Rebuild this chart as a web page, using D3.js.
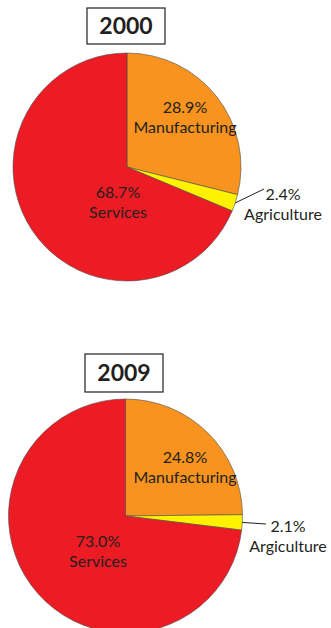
<!DOCTYPE html>
<html>
<head>
<meta charset="utf-8">
<script src="https://cdn.jsdelivr.net/npm/d3@7"></script>
<style>
  html, body { margin: 0; padding: 0; background: #fff; }
  svg { display: block; }
  text { font-family: Lato, "Open Sans", sans-serif; fill: #231f20; }
</style>
</head>
<body>
<svg id="chart" width="331" height="628"></svg>
<script>
// Sector shares of output, in percent
const years = ["2000", "2009"];
const sectors = ["Manufacturing", "Agriculture", "Services"];
const shares2000 = [28.9, 2.4, 68.7];
const shares2009 = [24.8, 2.1, 73.0];
// Label text under each percentage (the 2009 chart spells it as printed)
const labels2000 = ["Manufacturing", "Agriculture", "Services"];
const labels2009 = ["Manufacturing", "Argiculture", "Services"];

const colors = d3.scaleOrdinal()
  .domain(sectors)
  .range(["#f7931e", "#fff200", "#ed1c24"]);

// Placement of each pie, its title box and its slice labels
const layouts = [
  { cx: 127, cy: 167, r: 114, box: { x: 87, y: 8, w: 78, h: 36 },
    labelPos: [[185, 113], [283, 200], [118, 198]],
    leaderEnd: [264, 189] },
  { cx: 125.5, cy: 516, r: 117, box: { x: 85, y: 354, w: 78, h: 38 },
    labelPos: [[185, 463], [288, 532], [98, 547]],
    leaderEnd: [266, 524] }
];

const allShares = [shares2000, shares2009];
const allLabels = [labels2000, labels2009];

const svg = d3.select("#chart");
const pie = d3.pie().sort(null).value(d => d.value);

years.forEach((year, i) => {
  const L = layouts[i];
  const data = sectors.map((s, j) => ({ sector: s, value: allShares[i][j], label: allLabels[i][j] }));
  const arcs = pie(data);
  const arc = d3.arc().innerRadius(0).outerRadius(L.r);

  const g = svg.append("g").attr("transform", `translate(${L.cx},${L.cy})`);
  g.selectAll("path")
    .data(arcs)
    .join("path")
    .attr("d", arc)
    .attr("fill", d => colors(d.data.sector))
    .attr("stroke", "#4d4d4d")
    .attr("stroke-width", 0.6)
    .attr("stroke-linejoin", "round");

  // Title box
  svg.append("rect")
    .attr("x", L.box.x).attr("y", L.box.y)
    .attr("width", L.box.w).attr("height", L.box.h)
    .attr("fill", "#fff").attr("stroke", "#231f20").attr("stroke-width", 1.2);
  svg.append("text")
    .attr("x", L.box.x + L.box.w / 2)
    .attr("y", L.box.y + L.box.h / 2 + 8)
    .attr("text-anchor", "middle")
    .attr("font-size", 23)
    .attr("font-weight", "bold")
    .text(year);

  // Leader line from the rim of the thin agriculture slice to its label
  const agri = arcs[1];
  const mid = (agri.startAngle + agri.endAngle) / 2;
  const x1 = L.cx + Math.sin(mid) * L.r;
  const y1 = L.cy - Math.cos(mid) * L.r;
  svg.append("line")
    .attr("x1", x1).attr("y1", y1)
    .attr("x2", L.leaderEnd[0]).attr("y2", L.leaderEnd[1])
    .attr("stroke", "#231f20").attr("stroke-width", 1);

  // Slice labels: percentage on the first line, sector name below
  data.forEach((d, j) => {
    const [lx, ly] = L.labelPos[j];
    svg.append("text")
      .attr("x", lx).attr("y", ly)
      .attr("text-anchor", "middle")
      .attr("font-size", 16)
      .text(d3.format(".1f")(d.value) + "%");
    svg.append("text")
      .attr("x", lx).attr("y", ly + 19.5)
      .attr("text-anchor", "middle")
      .attr("font-size", 16)
      .text(d.label);
  });
});
</script>
</body>
</html>
